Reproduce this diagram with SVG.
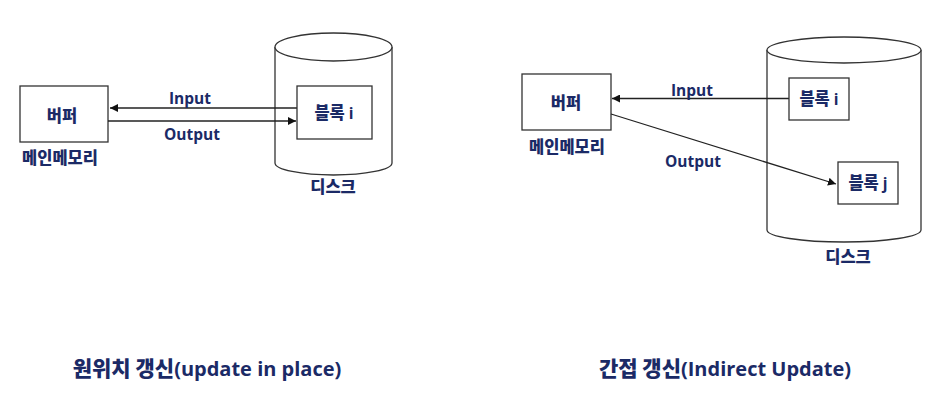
<svg xmlns="http://www.w3.org/2000/svg" width="940" height="401" viewBox="0 0 940 401">
<style>
.shape{fill:#fff;stroke:#333;stroke-width:1.3}
.line{fill:none;stroke:#222;stroke-width:1.3}
.t{font-family:"Open Sans","Noto Sans CJK KR",sans-serif;font-weight:bold;fill:#1b2a66;text-anchor:middle}
.k{font-family:"Noto Sans CJK KR",sans-serif;font-weight:900}
.s{font-size:15.5px}
.ks{font-size:16.5px}
.h{font-size:20px}
.kh{font-size:21px}
</style>
<defs>
<marker id="ah" viewBox="0 0 10 10" refX="10" refY="5" markerWidth="8" markerHeight="8" markerUnits="userSpaceOnUse" orient="auto">
<path d="M0,0 L10,5 L0,10 z" fill="#111"/>
</marker>
</defs>
<rect width="940" height="401" fill="#fff"/>

<!-- Left diagram -->
<g id="disk-left">
<path class="shape" d="M275,47 L275,163 A58.5,12 0 0 0 392,163 L392,47"/>
<ellipse class="shape" cx="333.5" cy="47" rx="58.5" ry="14"/>
<text class="t k ks" x="333" y="193">디스크</text>
</g>
<g id="buffer-left">
<rect class="shape" x="20" y="86" width="88" height="56"/>
<text class="t k ks" x="62" y="122">버퍼</text>
<text class="t k ks" x="60" y="164">메인메모리</text>
</g>
<g id="connectors-left">
<line class="line" x1="297" y1="108" x2="110" y2="108" marker-end="url(#ah)"/>
<line class="line" x1="108" y1="121" x2="296" y2="121" marker-end="url(#ah)"/>
<text class="t s" x="190" y="104">Input</text>
<text class="t s" x="192" y="140">Output</text>
</g>
<g id="block-i-left">
<rect class="shape" x="297" y="86" width="75" height="53"/>
<text class="t s" x="334" y="119"><tspan class="k ks">블록</tspan> i</text>
</g>

<!-- Right diagram -->
<g id="disk-right">
<path class="shape" d="M767,50 L767,230 A77,12 0 0 0 921,230 L921,50"/>
<ellipse class="shape" cx="844" cy="50" rx="77" ry="13"/>
<text class="t k ks" x="848" y="263">디스크</text>
</g>
<g id="buffer-right">
<rect class="shape" x="522" y="74" width="89" height="56"/>
<text class="t k ks" x="566" y="109">버퍼</text>
<text class="t k ks" x="567" y="153">메인메모리</text>
</g>
<g id="connectors-right">
<line class="line" x1="789" y1="98.5" x2="612" y2="98.5" marker-end="url(#ah)"/>
<line class="line" x1="611" y1="114" x2="836" y2="184" marker-end="url(#ah)"/>
<text class="t s" x="692" y="96">Input</text>
<text class="t s" x="693" y="167">Output</text>
</g>
<g id="block-i-right">
<rect class="shape" x="789" y="78" width="60" height="42"/>
<text class="t s" x="819" y="105"><tspan class="k ks">블록</tspan> i</text>
</g>
<g id="block-j-right">
<rect class="shape" x="838" y="162" width="60" height="42"/>
<text class="t s" x="868" y="189"><tspan class="k ks">블록</tspan> j</text>
</g>

<g id="titles">
<text class="t h" x="207" y="376"><tspan class="k kh">원위치 갱신</tspan>(update in place)</text>
<text class="t h" x="725" y="376"><tspan class="k kh">간접 갱신</tspan>(Indirect Update)</text>
</g>
</svg>
